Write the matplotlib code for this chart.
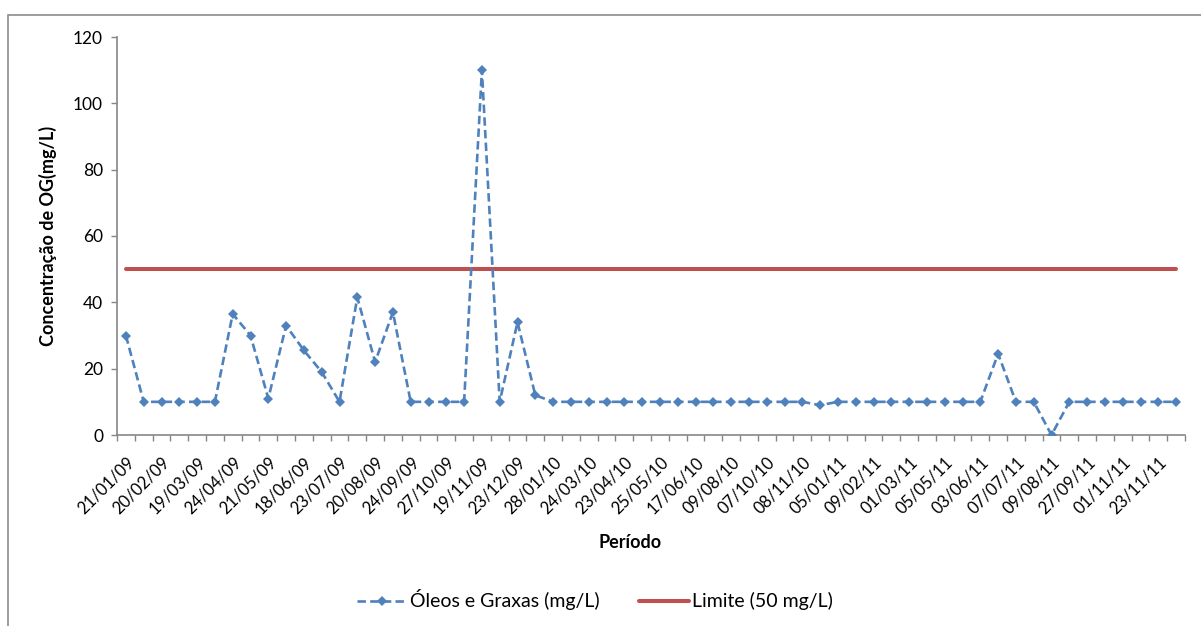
import numpy as np
import matplotlib
matplotlib.use('Agg')
from matplotlib import pyplot as plt
from matplotlib.patches import Rectangle

plt.rcParams['font.family'] = ['Lato', 'DejaVu Sans']

# sampling dates (one label every second sample)
date_labels = ['21/01/09', '20/02/09', '19/03/09', '24/04/09', '21/05/09',
               '18/06/09', '23/07/09', '20/08/09', '24/09/09', '27/10/09',
               '19/11/09', '23/12/09', '28/01/10', '24/03/10', '23/04/10',
               '25/05/10', '17/06/10', '09/08/10', '07/10/10', '08/11/10',
               '05/01/11', '09/02/11', '01/03/11', '05/05/11', '03/06/11',
               '07/07/11', '09/08/11', '27/09/11', '01/11/11', '23/11/11']

# oils and greases, mg/L
og = [30, 10, 10, 10, 10, 10, 36.5, 30, 11, 33,
      25.5, 19, 10, 41.5, 22, 37, 10, 10, 10, 10,
      110, 10, 34, 12, 10, 10, 10, 10, 10, 10,
      10, 10, 10, 10, 10, 10, 10, 10, 10, 9,
      10, 10, 10, 10, 10, 10, 10, 10, 10, 24.5,
      10, 10, 0, 10, 10, 10, 10, 10, 10, 10]
limite = 50

W, H = 1201, 626
fig = plt.figure(figsize=(W/100, H/100), dpi=100)
fig.patch.set_facecolor('white')

# chart area frame
fig.patches.append(Rectangle((8/W, -0.1), 1.2, 1.1 - 15/H, transform=fig.transFigure,
                             fill=False, edgecolor='#8c8c8c', linewidth=1.2))

ax = fig.add_axes([117/W, (H-435)/H, (1185-117)/W, (435-37)/H])

x = np.arange(len(og))
ax.plot(x, [limite]*len(x), color='#C0504D', linewidth=2.9, solid_capstyle='round',
        label='Limite (50 mg/L)', zorder=2)
ax.plot(x, og, color='#4F81BD', linewidth=1.9, dashes=(3.2, 1.6),
        marker='D', markersize=5.5, markeredgewidth=0,
        label='Óleos e Graxas (mg/L)', zorder=3)

ax.set_xlim(-0.5, len(og) - 0.5)
ax.set_ylim(0, 120)
ax.set_yticks(range(0, 121, 20))

for s in ['top', 'right']:
    ax.spines[s].set_visible(False)
for s in ['left', 'bottom']:
    ax.spines[s].set_color('#868686')
    ax.spines[s].set_linewidth(1.2)

ax.tick_params(axis='y', direction='out', length=4, width=1, color='#868686',
               labelsize=12.5, pad=6)
ax.set_xticks(np.arange(0, len(og), 2))
ax.set_xticklabels(date_labels, rotation=45, ha='right', va='top',
                   rotation_mode='anchor')
ax.set_xticks(np.arange(-0.5, len(og), 1), minor=True)
ax.tick_params(axis='x', which='major', length=0, labelsize=12, pad=14)
ax.tick_params(axis='x', which='minor', direction='out', length=4, width=1,
               color='#868686')

fig.text(48/W, 1 - 236/H, 'Concentração de OG(mg/L)', rotation=90,
         ha='center', va='center', fontsize=13, fontweight='bold')
fig.text(630/W, 1 - 542/H, 'Período', ha='center', va='center',
         fontsize=13, fontweight='bold')

handles, labels = ax.get_legend_handles_labels()
fig.legend(handles[::-1], labels[::-1], loc='center', ncol=2,
           bbox_to_anchor=(595/W, 1 - 600/H), frameon=False, fontsize=14,
           handlelength=2.6, handletextpad=0.15, columnspacing=2.0, numpoints=1)

fig.savefig('out.png', dpi=100)
